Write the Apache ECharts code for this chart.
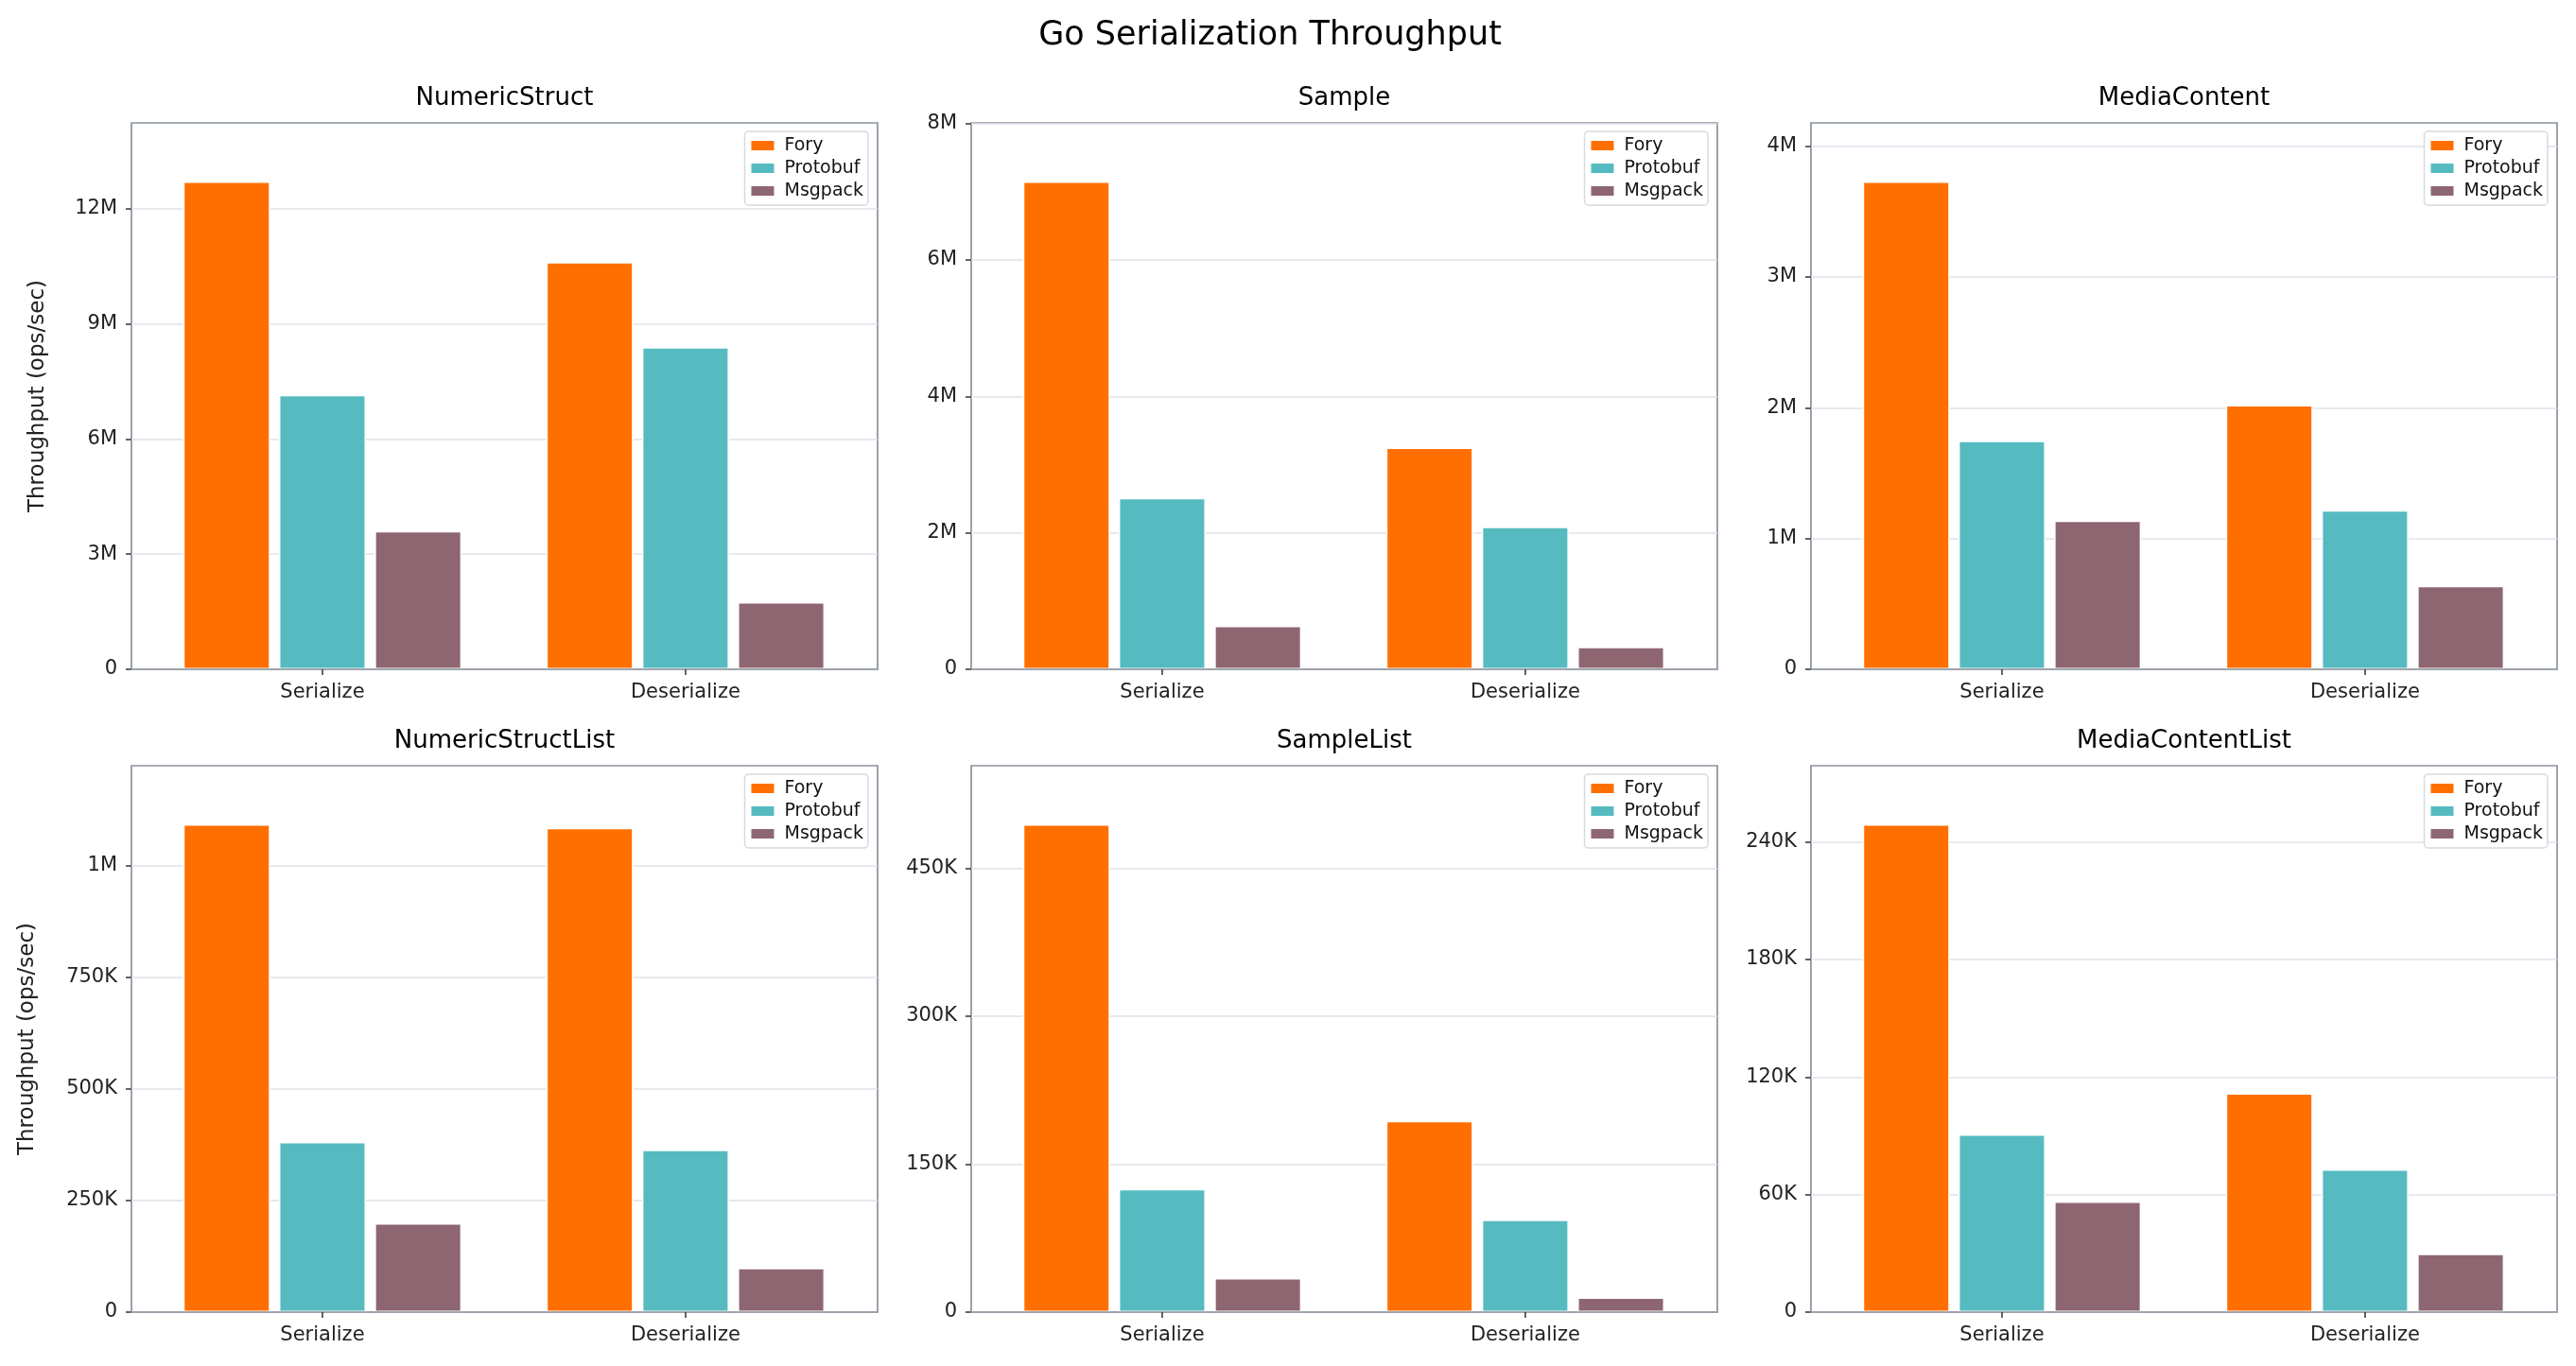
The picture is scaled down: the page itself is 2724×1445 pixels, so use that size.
<!DOCTYPE html>
<html lang="en">
<head>
  <meta charset="UTF-8">
  <title>Go Serialization Throughput</title>
  <script src="https://cdn.jsdelivr.net/npm/echarts@6/dist/echarts.min.js"></script>
  <style>
    body {
      margin: 0;
      background-color: #ffffff;
    }
    #chart {
      width: 2724px;
      height: 1445px;
    }
  </style>
</head>
<body>
  <div id="chart"></div>

  <script>
    // data (ops/sec)
    const categories = ['Serialize', 'Deserialize'];
    const benchmarks = ['NumericStruct', 'Sample', 'MediaContent', 'NumericStructList', 'SampleList', 'MediaContentList'];
    const libraries = ['Fory', 'Protobuf', 'Msgpack'];
    const foryOps = [[12710000, 10610000], [7150000, 3250000], [3730000, 2020000], [1093000, 1085000], [494700, 193900], [249000, 111700]];
    const protobufOps = [[7150000, 8390000], [2510000, 2090000], [1747000, 1216000], [381000, 364000], [124800, 93700], [90700, 72900]];
    const msgpackOps = [[3600000, 1750000], [636000, 330000], [1137000, 637000], [199000, 99000], [34500, 14900], [56400, 29800]];
    const yTickSteps = [3000000, 2000000, 1000000, 250000, 150000, 60000];

    const colors = ['#ff6f00', '#55bbc0', '#8e6672'];
    const font = 'DejaVu Sans';
    const gridLeft = [139, 1027, 1915];
    const gridTop = [130, 810];
    const gridW = 789;
    const gridH = 578;
    // x range around the two category positions (0 and 1), as in the picture
    const xMin = -0.526;
    const xMax = 1.529;

    const chart = echarts.init(document.getElementById('chart'));

    function fmtOps(v) {
      if (v >= 1e6) return (v / 1e6) + 'M';
      if (v >= 1e3) return (v / 1e3) + 'K';
      return String(v);
    }

    const titles = [{
      text: 'Go Serialization Throughput',
      left: 1343,
      top: 20,
      textAlign: 'center',
      padding: 0,
      textStyle: { fontFamily: font, fontSize: 35, fontWeight: 'normal', color: '#000' }
    }];
    const grids = [], xAxes = [], yAxes = [], legends = [], series = [];
    const catIdx = categories.map((c, j) => j);

    benchmarks.forEach((name, i) => {
      const col = i % 3;
      const row = Math.floor(i / 3);
      const left = gridLeft[col];
      const top = gridTop[row];
      const step = yTickSteps[i];
      const yMax = Math.max(...foryOps[i], ...protobufOps[i], ...msgpackOps[i]) * 1.12;
      const yTicks = [];
      for (let v = 0; v <= yMax + 1; v += step) yTicks.push(v);

      titles.push({
        text: name,
        left: left + gridW / 2,
        top: top - 39,
        textAlign: 'center',
        padding: 0,
        textStyle: { fontFamily: font, fontSize: 26, fontWeight: 'normal', color: '#000' }
      });

      grids.push({
        left: left,
        top: top,
        width: gridW,
        height: gridH,
        show: true,
        backgroundColor: '#fff',
        borderColor: '#8b929c',
        borderWidth: 1.7
      });

      xAxes.push({
        type: 'value',
        gridIndex: i,
        min: xMin,
        max: xMax,
        z: 10,
        axisLine: { show: true, onZero: false, lineStyle: { color: '#8b929c', width: 1.7 } },
        axisTick: { show: true, customValues: catIdx, length: 6, lineStyle: { color: '#333', width: 1.5 } },
        axisLabel: {
          customValues: catIdx,
          fontFamily: font, fontSize: 21, color: '#222', margin: 14,
          formatter: v => categories[Math.round(v)]
        },
        splitLine: { show: false }
      });

      yAxes.push({
        type: 'value',
        gridIndex: i,
        position: 'left',
        min: 0,
        max: yMax,
        interval: step,
        name: col === 0 ? 'Throughput (ops/sec)' : '',
        nameLocation: 'middle',
        nameGap: row === 0 ? 87 : 98,
        nameTextStyle: { fontFamily: font, fontSize: 23, color: '#222' },
        axisLine: { show: false, onZero: false },
        axisTick: { show: true, customValues: yTicks, length: 6, lineStyle: { color: '#333', width: 1.5 } },
        axisLabel: {
          customValues: yTicks,
          fontFamily: font, fontSize: 21, color: '#222', margin: 15,
          formatter: v => fmtOps(v)
        },
        splitLine: { show: true, lineStyle: { color: '#dfe2ea', width: 1.5 } }
      });

      legends.push({
        orient: 'vertical',
        right: 2724 - (left + gridW - 10),
        top: top + 9,
        data: libraries,
        icon: 'rect',
        itemWidth: 24,
        itemHeight: 10,
        itemGap: 4,
        align: 'left',
        padding: [5, 5, 5, 7],
        backgroundColor: '#fff',
        borderColor: '#d6dade',
        borderWidth: 1.5,
        borderRadius: 4,
        itemStyle: { borderWidth: 0 },
        textStyle: { fontFamily: font, fontSize: 19, lineHeight: 20, color: '#111', padding: [0, 0, 0, 6] }
      });

      [foryOps, protobufOps, msgpackOps].forEach((ops, k) => {
        series.push({
          name: libraries[k],
          type: 'bar',
          xAxisIndex: i,
          yAxisIndex: i,
          data: ops[i].map((v, j) => [j, v]),
          barWidth: 92,
          barGap: '10%',
          itemStyle: { color: colors[k], borderColor: '#fff', borderWidth: 1.5 }
        });
      });
    });

    const option = {
      backgroundColor: '#ffffff',
      animation: false,
      title: titles,
      grid: grids,
      xAxis: xAxes,
      yAxis: yAxes,
      legend: legends,
      series: series
    };

    chart.setOption(option);
  </script>
</body>
</html>
